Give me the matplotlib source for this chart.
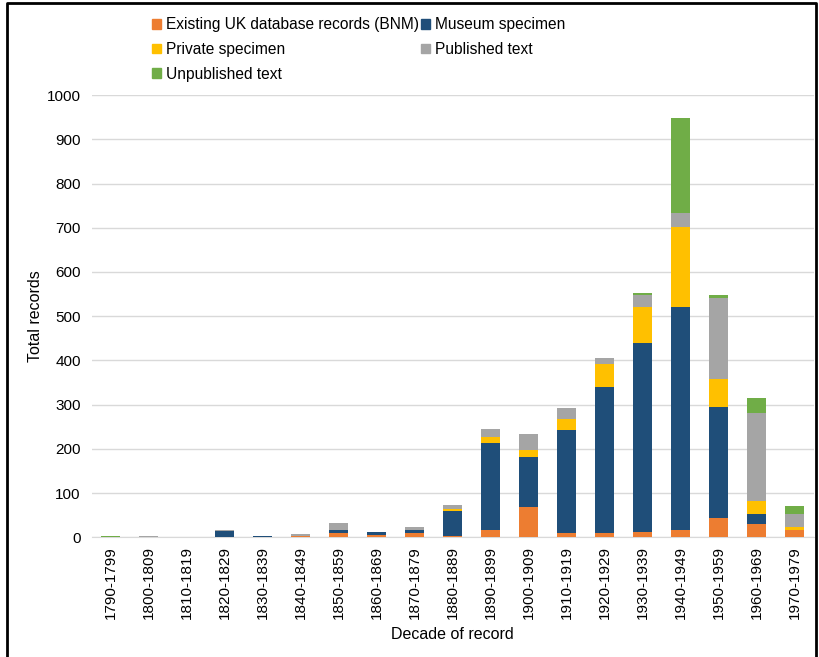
import numpy as np
import matplotlib.pyplot as plt
from matplotlib.patches import Patch
from matplotlib.lines import Line2D

plt.rcParams['font.family'] = ['Liberation Sans', 'DejaVu Sans']

decades = ['1790-1799', '1800-1809', '1810-1819', '1820-1829', '1830-1839',
           '1840-1849', '1850-1859', '1860-1869', '1870-1879', '1880-1889',
           '1890-1899', '1900-1909', '1910-1919', '1920-1929', '1930-1939',
           '1940-1949', '1950-1959', '1960-1969', '1970-1979']

existing = [0, 1, 0, 2, 0, 3, 10, 6, 10, 3, 17, 70, 11, 11, 13, 18, 43, 30, 18]
museum = [0, 0, 1, 13, 3, 1, 6, 7, 6, 57, 197, 113, 232, 328, 427, 504, 253, 23, 0]
private = [0, 0, 0, 0, 0, 0, 2, 0, 1, 4, 14, 15, 24, 53, 81, 179, 62, 29, 6]
published = [1, 2, 0, 1, 0, 3, 15, 0, 7, 9, 17, 36, 25, 14, 28, 32, 183, 199, 29]
unpublished = [2, 0, 0, 0, 0, 0, 0, 0, 0, 0, 0, 0, 0, 0, 3, 214, 6, 34, 18]

series = [
    ('Existing UK database records (BNM)', existing, '#ED7D31'),
    ('Museum specimen', museum, '#1F4E79'),
    ('Private specimen', private, '#FFC000'),
    ('Published text', published, '#A5A5A5'),
    ('Unpublished text', unpublished, '#70AD47'),
]

fig = plt.figure(figsize=(8.19, 6.57), dpi=100)
ax = fig.add_axes([0.1123, 0.1819, 0.881, 0.6735])

x = np.arange(len(decades))
bottom = np.zeros(len(decades))
handles = {}
for name, vals, color in series:
    vals = np.array(vals, dtype=float)
    ax.bar(x, vals, width=0.5, bottom=bottom, color=color, zorder=3)
    bottom += vals
    handles[name] = Patch(color=color, label=name)

ax.set_xlim(-0.5, len(decades) - 0.5)
ax.set_ylim(0, 1000)
ax.set_yticks(np.arange(0, 1001, 100))
ax.set_xticks(x)
ax.set_xticklabels(decades, rotation=90)
ax.tick_params(axis='both', length=0, labelsize=11, colors='#000000')
ax.tick_params(axis='y', pad=8)
ax.tick_params(axis='x', pad=6)
ax.grid(axis='y', color='#d9d9d9', lw=1, zorder=0)
for s in ['top', 'right', 'left']:
    ax.spines[s].set_visible(False)
ax.spines['bottom'].set_color('#d9d9d9')

ax.set_xlabel('Decade of record', fontsize=11.5, labelpad=6)
ax.set_ylabel('Total records', fontsize=11.5, labelpad=3)

order = ['Existing UK database records (BNM)', 'Private specimen', 'Unpublished text',
         'Museum specimen', 'Published text']
fig.legend([handles[n] for n in order], order, ncol=2, loc='upper left',
           bbox_to_anchor=(0.178, 0.983), frameon=False, fontsize=11.2,
           handlelength=0.55, handleheight=0.55, handletextpad=0.35,
           columnspacing=0.15, labelspacing=0.62, borderaxespad=0)

# outer frame
fig.add_artist(Line2D([0.009, 0.009, 0.996, 0.996], [0.0, 0.995, 0.995, 0.0],
                      transform=fig.transFigure, color='black', lw=2))

fig.savefig('out.png', dpi=100)
